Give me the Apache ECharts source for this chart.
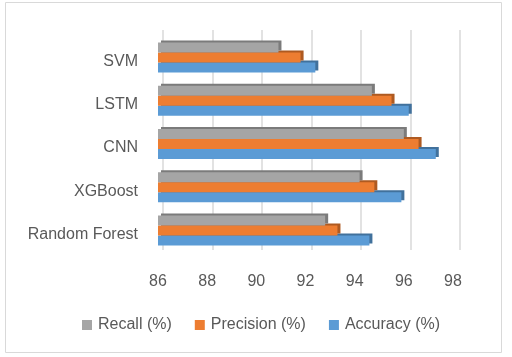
<!DOCTYPE html>
<html><head><meta charset="utf-8">
<script src="https://cdn.jsdelivr.net/npm/echarts@6/dist/echarts.min.js"></script>
<style>html,body{margin:0;padding:0;background:#fff}#c{width:512px;height:357px}</style>
</head><body><div id="c"></div>
<script>
var categories = ['Random Forest', 'XGBoost', 'CNN', 'LSTM', 'SVM'];
var recall = [92.8, 94.2, 96.0, 94.7, 90.9];
var precision = [93.3, 94.8, 96.6, 95.5, 91.8];
var accuracy = [94.6, 95.9, 97.3, 96.2, 92.4];
var xTicks = [86, 88, 90, 92, 94, 96, 98];

var font = 'Liberation Sans';
var chart = echarts.init(document.getElementById('c'), null, {renderer: 'canvas'});
function bar(name, data, color, side, z) {
  return {
    name: name, type: 'bar', data: data, xAxisIndex: 1, yAxisIndex: 1,
    barWidth: 10, barGap: '0%', z: z,
    itemStyle: {color: color, shadowColor: side, shadowBlur: 0, shadowOffsetX: 3, shadowOffsetY: -2},
    emphasis: {disabled: true}
  };
}
chart.setOption({
  animation: false,
  textStyle: {fontFamily: font},
  graphic: [{type: 'rect', shape: {x: 5.5, y: 2.5, width: 496, height: 350}, style: {fill: null, stroke: '#d9d9d9', lineWidth: 1}, z: -10}],
  grid: [
    {left: 163, top: 30, width: 297, height: 220},
    {left: 158, top: 36, width: 295, height: 216}
  ],
  xAxis: [
    {gridIndex: 0, type: 'value', min: xTicks[0], max: xTicks[xTicks.length - 1], interval: 2,
     axisLine: {show: false}, axisTick: {show: false}, axisLabel: {show: false},
     splitLine: {show: true, lineStyle: {color: '#d9d9d9', width: 1.5}}},
    {gridIndex: 1, type: 'value', min: xTicks[0], max: xTicks[xTicks.length - 1], interval: 2,
     axisLine: {show: false}, axisTick: {show: false}, splitLine: {show: false},
     axisLabel: {color: '#595959', fontSize: 16, fontFamily: font, margin: 22}}
  ],
  yAxis: [
    {gridIndex: 0, type: 'category', data: categories, show: false},
    {gridIndex: 1, type: 'category', data: categories,
     axisLine: {show: false}, axisTick: {show: false},
     axisLabel: {color: '#595959', fontSize: 16, fontFamily: font, margin: 20, verticalAlign: 'top', lineHeight: 8}}
  ],
  legend: {
    left: 77, top: 312, itemWidth: 10, itemHeight: 10, itemGap: 23, icon: 'rect',
    textStyle: {color: '#595959', fontSize: 16, fontFamily: font, padding: [0, 0, 0, 1]},
    data: ['Recall (%)', 'Precision (%)', 'Accuracy (%)']
  },
  series: [
    bar('Recall (%)', recall, '#a5a5a5', '#7b7b7b', 4),
    bar('Precision (%)', precision, '#ed7d31', '#ae5a21', 3),
    bar('Accuracy (%)', accuracy, '#5b9bd5', '#41719c', 2)
  ]
});
</script></body></html>
